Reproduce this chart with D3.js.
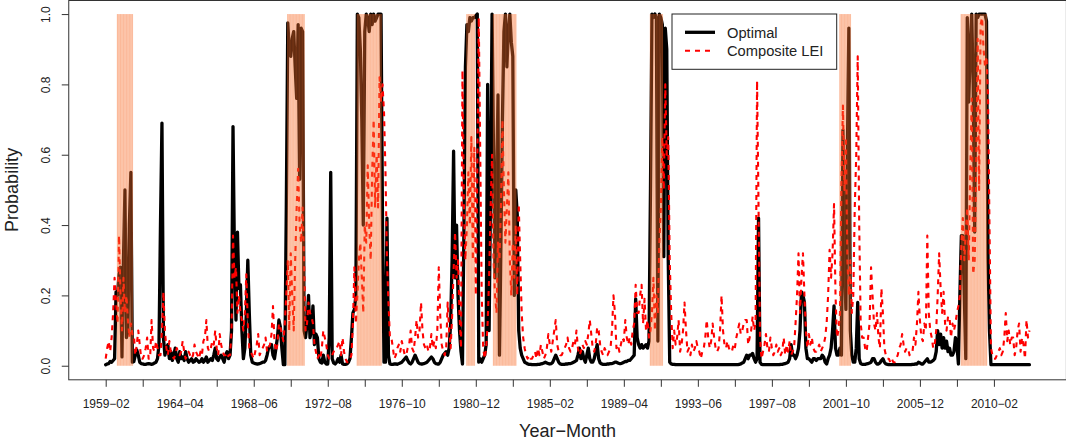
<!DOCTYPE html>
<html>
<head>
<meta charset="utf-8">
<script src="https://cdn.jsdelivr.net/npm/d3@7"></script>
<style>
  html, body { margin: 0; padding: 0; background: #fff; }
  svg { display: block; font-family: "Liberation Sans", Arial, Helvetica, sans-serif; }
</style>
</head>
<body>
<svg id="chart" width="1066" height="440"></svg>
<script>
// Monthly recession probabilities, one value per observation (index 0 = first month)
const optimal = [
  .003,.005,.006,.012,.01,.015,.02,.21,.2,.26,.28,.025,.3,.5,.08,.1,.4,.55,.01,.012,.03,.045,.03,.01,.006,
  .005,.004,.004,.005,.006,.005,.004,.005,.008,.01,.02,.06,.4,.69,.08,.03,.05,.06,.02,.04,.015,.03,.05,.02,.01,
  .04,.02,.025,.015,.04,.02,.01,.015,.02,.01,.012,.02,.015,.01,.012,.02,.01,.015,.025,.01,.015,.02,.015,.03,.05,
  .02,.015,.025,.03,.02,.01,.03,.04,.02,.03,.1,.68,.3,.13,.38,.22,.23,.1,.02,.05,.15,.3,.15,.03,.01,
  .008,.006,.005,.005,.006,.008,.01,.01,.015,.03,.05,.055,.06,.03,.02,.05,.08,.13,.11,.05,.003,.003,.45,.975,.9,
  .88,.93,.95,.85,.76,.97,.53,.96,.95,.1,.08,.12,.2,.08,.1,.17,.06,.09,.08,.02,.01,.008,.03,.01,.005,
  .005,.08,.55,.02,.008,.005,.01,.02,.01,.03,.005,.004,.004,.005,.01,.02,.08,.15,.16,.2,1,.99,.9,.7,.4,
  .95,1,.99,.95,1,.97,1,.98,.99,1,1,1,.4,.01,.01,.42,.03,.005,.004,.004,.005,.005,.004,.006,.008,
  .01,.015,.02,.025,.015,.008,.005,.01,.02,.03,.02,.01,.006,.005,.005,.006,.008,.01,.015,.02,.025,.02,.01,.006,.005,
  .005,.01,.02,.03,.035,.04,.03,.05,.12,.3,.61,.25,.4,.2,.1,.04,.005,.4,.85,.97,.95,.99,.98,.99,.99,
  .995,1,.01,.02,.01,.02,.03,.06,.8,.1,.5,1,.6,.25,.5,.77,.03,.35,.7,.95,1,.85,.95,1,.92,
  .88,.2,.5,.43,.1,.05,.03,.02,.01,.008,.005,.004,.004,.003,.003,.003,.003,.004,.004,.005,.006,.008,.01,.008,.006,
  .005,.006,.01,.02,.03,.02,.01,.005,.004,.004,.004,.005,.005,.006,.006,.008,.01,.012,.015,.03,.05,.02,.04,.02,.01,
  .03,.05,.02,.01,.01,.02,.04,.06,.02,.008,.005,.004,.004,.004,.005,.005,.006,.006,.008,.01,.01,.008,.006,.006,.008,
  .01,.012,.012,.015,.015,.02,.025,.03,.19,.08,.06,.05,.06,.05,.055,.06,.05,.07,.5,1,.99,1,.99,.07,1,
  .99,.97,.31,.96,.9,.3,.01,.005,.004,.004,.003,.003,.003,.003,.003,.003,.003,.003,.003,.003,.003,.003,.003,.003,.003,
  .003,.003,.003,.003,.003,.003,.003,.003,.003,.003,.003,.003,.003,.003,.003,.003,.003,.003,.003,.003,.003,.003,.003,.003,.003,
  .003,.003,.003,.004,.005,.008,.01,.02,.03,.02,.03,.03,.035,.02,.01,.02,.42,.01,.004,.003,.003,.003,.003,.003,.003,
  .003,.003,.003,.003,.003,.003,.004,.004,.005,.006,.008,.01,.02,.06,.03,.03,.02,.03,.05,.1,.21,.2,.18,.05,.02,
  .02,.015,.01,.02,.02,.015,.02,.02,.02,.03,.025,.01,.005,.02,.03,.05,.1,.17,.05,.03,.03,.05,.03,.67,.3,
  .16,.6,.96,.1,.03,.01,.01,.05,.18,.02,.006,.004,.004,.004,.005,.006,.008,.01,.02,.02,.01,.005,.005,.008,.015,
  .02,.01,.005,.004,.003,.003,.003,.003,.003,.003,.003,.003,.003,.003,.003,.003,.003,.003,.003,.003,.004,.004,.005,.005,.01,
  .008,.005,.005,.01,.015,.02,.01,.01,.012,.015,.02,.04,.1,.06,.09,.05,.08,.05,.07,.04,.05,.03,.03,.04,.08,
  .06,.005,.2,.37,.37,.2,.02,.99,.75,.9,1,.8,.38,1,.99,1,1,1,1,1,.98,.31,.1,.003,.003,
  .003,.003,.003,.003,.003,.003,.003,.003,.003,.003,.003,.003,.003,.003,.003,.003,.003,.003,.003,.003,.003,.003,.003,.003,.003
];

const compositeLEI = [
  .02,.05,.07,.04,.08,.15,.25,.18,.12,.37,.2,.1,.25,.15,.2,.13,.08,.12,.09,.09,.03,.06,.1,.06,.02,
  .02,.03,.05,.08,.02,.02,.13,.05,.04,.07,.05,.03,.03,.1,.21,.1,.05,.03,.07,.04,.03,.02,.03,.05,.04,
  .03,.04,.07,.04,.02,.03,.04,.03,.02,.03,.06,.04,.03,.02,.04,.03,.07,.08,.13,.05,.04,.05,.07,.06,.1,
  .05,.03,.09,.06,.04,.03,.03,.02,.03,.03,.1,.37,.25,.28,.15,.2,.15,.13,.1,.15,.26,.12,.05,.04,.03,
  .02,.04,.06,.09,.03,.04,.05,.06,.08,.04,.05,.06,.09,.17,.07,.04,.06,.12,.11,.09,.07,.12,.2,.3,.1,
  .32,.2,.1,.3,.45,.56,.4,.35,.45,.3,.1,.12,.18,.15,.14,.12,.06,.04,.02,.03,.02,.05,.1,.08,.06,
  .03,.02,.02,.03,.04,.05,.05,.06,.07,.03,.08,.04,.02,.01,.01,.02,.03,.12,.28,.12,.2,.3,.35,.25,.15,
  .4,.35,.57,.4,.3,.55,.7,.45,.6,.45,.82,.75,.8,.72,.55,.3,.18,.08,.08,.05,.02,.03,.05,.06,.04,
  .07,.05,.03,.03,.05,.06,.1,.05,.04,.08,.13,.08,.1,.18,.1,.06,.05,.06,.04,.05,.09,.05,.07,.05,.1,
  .28,.14,.06,.04,.03,.05,.18,.1,.05,.14,.27,.38,.25,.3,.15,.05,.84,.45,.3,.4,.55,.4,.65,.3,.62,
  .2,.55,.99,.6,.2,.05,.02,.05,.12,.25,.45,.6,.3,.2,.15,.35,.3,.45,.7,.5,.35,.45,.55,.3,.2,
  .35,.25,.4,.2,.46,.3,.15,.08,.05,.03,.02,.03,.02,.02,.03,.04,.02,.05,.03,.06,.04,.02,.03,.05,.09,
  .06,.04,.07,.1,.13,.06,.04,.03,.03,.04,.05,.06,.08,.05,.04,.05,.07,.06,.1,.05,.03,.04,.06,.05,.07,
  .06,.09,.13,.09,.05,.04,.06,.11,.1,.06,.04,.03,.05,.04,.03,.04,.05,.1,.2,.15,.05,.06,.04,.06,.08,
  .07,.13,.08,.06,.08,.06,.1,.12,.23,.15,.15,.2,.23,.12,.19,.1,.13,.08,.1,.15,.25,.1,.2,.15,.35,
  .45,.65,.5,.8,.6,.65,.3,.15,.05,.1,.06,.08,.13,.04,.06,.1,.18,.1,.04,.05,.03,.06,.04,.05,.07,
  .05,.04,.02,.04,.05,.08,.13,.08,.05,.07,.12,.08,.05,.04,.05,.1,.2,.1,.06,.05,.07,.05,.04,.04,.06,
  .05,.08,.1,.12,.09,.1,.12,.13,.13,.06,.08,.1,.14,.1,.12,.81,.45,.08,.02,.04,.06,.09,.05,.04,.08,
  .05,.03,.04,.06,.04,.05,.03,.04,.08,.03,.06,.04,.07,.03,.04,.05,.12,.2,.32,.15,.25,.32,.2,.1,.05,
  .09,.06,.08,.05,.04,.04,.05,.06,.04,.05,.06,.08,.12,.2,.33,.25,.32,.46,.2,.08,.1,.15,.52,.74,.5,
  .65,.3,.2,.3,.15,.2,.45,.6,.88,.4,.12,.08,.08,.05,.04,.08,.12,.28,.2,.12,.1,.15,.08,.05,.22,
  .15,.05,.03,.02,.02,.01,.02,.01,.01,.02,.03,.05,.06,.09,.06,.04,.05,.05,.03,.04,.04,.08,.06,.12,.21,
  .13,.08,.07,.12,.1,.37,.15,.1,.08,.05,.06,.1,.2,.32,.22,.15,.21,.12,.1,.14,.14,.08,.12,.1,.12,
  .15,.17,.2,.35,.42,.3,.38,.45,.3,.55,.76,.26,.3,.55,.93,.5,.97,.99,.9,.85,.88,.77,.4,.05,.03,
  .02,.02,.03,.04,.05,.03,.04,.08,.15,.07,.1,.06,.08,.08,.03,.05,.1,.12,.04,.08,.06,.02,.13,.08,.1
];

// Recession months, as first and last observation index of each episode
const recessionStart = [8, 123, 170, 244, 262, 368, 496, 578];
const recessionEnd   = [18, 134, 186, 249, 277, 376, 503, 595];

// Dates shown under every second tick (ticks every 25 observations)
const tickLabels = ["1959\u221202","1964\u221204","1968\u221206","1972\u221208","1976\u221210","1980\u221212",
                    "1985\u221202","1989\u221204","1993\u221206","1997\u221208","2001\u221210","2005\u221212","2010\u221202"];
const yTicks = [0, 0.2, 0.4, 0.6, 0.8, 1.0];
const seriesNames = ["Optimal", "Composite LEI"];

const svg = d3.select("#chart");
const N = optimal.length;
const pad = (N - 1) * 0.04;

const plot = { left: 68.75, right: 1066.4, top: 0, bottom: 379.8 };

const x = d3.scaleLinear().domain([-pad, N - 1 + pad]).range([plot.left, plot.right]);
const y = d3.scaleLinear().domain([-0.04, 1.04]).range([plot.bottom, plot.top]);

const line = d3.line().x((d, i) => x(i)).y(d => y(d));

// Series
svg.append("path")
  .datum(optimal)
  .attr("d", line)
  .attr("fill", "none")
  .attr("stroke", "#000")
  .attr("stroke-width", 3.3)
  .attr("stroke-linejoin", "round")
  .attr("stroke-linecap", "round");

svg.append("path")
  .datum(compositeLEI)
  .attr("d", line)
  .attr("fill", "none")
  .attr("stroke", "#ff0000")
  .attr("stroke-width", 2.1)
  .attr("stroke-dasharray", "5,5")
  .attr("stroke-linejoin", "round");

// Recession shading, one translucent band per month drawn over the series
const shade = svg.append("g");
recessionStart.forEach((s, k) => {
  const months = d3.range(s, recessionEnd[k] + 1);
  shade.append("rect")
    .attr("x", x(s - 0.5))
    .attr("width", x(recessionEnd[k] + 0.5) - x(s - 0.5))
    .attr("y", y(1))
    .attr("height", y(0) - y(1))
    .attr("fill", "rgb(250,110,40)")
    .attr("fill-opacity", 0.32);
  shade.selectAll(null)
    .data(months)
    .enter().append("line")
    .attr("x1", d => x(d)).attr("x2", d => x(d))
    .attr("y1", y(1)).attr("y2", y(0))
    .attr("stroke", "rgb(245,115,55)")
    .attr("stroke-opacity", 0.35)
    .attr("stroke-width", 0.7);
});

// Axes
const xAxis = d3.axisBottom(x)
  .tickValues(d3.range(0, 601, 25))
  .tickFormat(d => (d % 50 === 0 ? tickLabels[d / 50] : ""))
  .tickSize(7)
  .tickSizeOuter(0)
  .tickPadding(12.5);

const gx = svg.append("g")
  .attr("transform", `translate(0,${plot.bottom})`)
  .call(xAxis);
gx.select(".domain").remove();
gx.selectAll(".tick line").attr("stroke", "#333");
gx.selectAll("text").attr("font-size", 12).attr("fill", "#222")
  .attr("font-family", "'Liberation Sans', Arial, sans-serif");

const yAxis = d3.axisLeft(y)
  .tickValues(yTicks)
  .tickFormat(d3.format(".1f"))
  .tickSize(7)
  .tickSizeOuter(0);

const gy = svg.append("g")
  .attr("transform", `translate(${plot.left},0)`)
  .call(yAxis);
gy.select(".domain").remove();
gy.selectAll(".tick line").attr("stroke", "#333");
gy.selectAll("text")
  .attr("x", 0).attr("dy", 0)
  .attr("text-anchor", "middle")
  .attr("transform", "translate(-19.25,0) rotate(-90)")
  .attr("font-size", 12).attr("fill", "#222")
  .attr("font-family", "'Liberation Sans', Arial, sans-serif");

// Plot frame
svg.append("rect")
  .attr("x", plot.left).attr("y", plot.top + 0.5)
  .attr("width", plot.right - plot.left).attr("height", plot.bottom - plot.top - 0.5)
  .attr("fill", "none").attr("stroke", "#333").attr("stroke-width", 1);

// Axis titles
svg.append("text")
  .attr("x", (plot.left + plot.right) / 2).attr("y", 436.5)
  .attr("text-anchor", "middle").attr("font-size", 18).attr("fill", "#222")
  .text("Year\u2212Month");

svg.append("text")
  .attr("transform", `translate(17.5,${(plot.top + plot.bottom) / 2}) rotate(-90)`)
  .attr("text-anchor", "middle").attr("font-size", 18).attr("fill", "#222")
  .text("Probability");

// Legend
const lg = svg.append("g");
lg.append("rect")
  .attr("x", 672).attr("y", 14).attr("width", 164.7).attr("height", 55.3)
  .attr("fill", "#fff").attr("stroke", "#222").attr("stroke-width", 1);
const legendRows = [
  { name: seriesNames[0], color: "#000", width: 3.3, dash: null, ly: 32.3 },
  { name: seriesNames[1], color: "#ff0000", width: 2.1, dash: "5,5", ly: 50.7 }
];
legendRows.forEach(r => {
  lg.append("line")
    .attr("x1", 685).attr("x2", 715).attr("y1", r.ly).attr("y2", r.ly)
    .attr("stroke", r.color).attr("stroke-width", r.width)
    .attr("stroke-dasharray", r.dash);
  lg.append("text")
    .attr("x", 727).attr("y", r.ly + 5.2)
    .attr("font-size", 14.7).attr("fill", "#222")
    .text(r.name);
});
</script>
</body>
</html>
